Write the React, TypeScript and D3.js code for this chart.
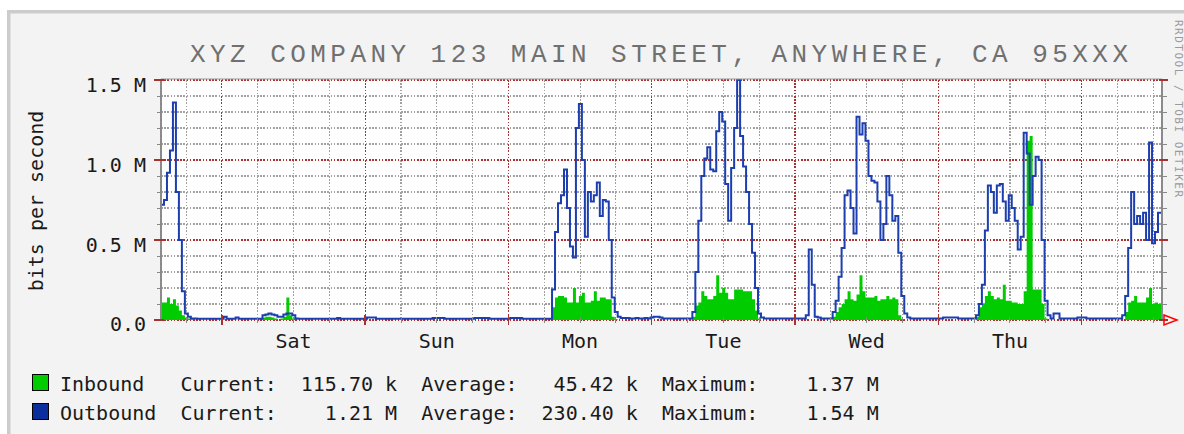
import React from "react";
import * as d3 from "d3";

const WIDTH = 1184;
const HEIGHT = 434;

// samples are every half hour, starting at the left edge of the plot
const HOURS_PER_SAMPLE = 0.5;
const TOTAL_HOURS = 167.5;
const FIRST_MIDNIGHT = 10.2;
const DAY_LABELS = ["Sat", "Sun", "Mon", "Tue", "Wed", "Thu"];
const Y_TICKS = [0, 0.5, 1.0, 1.5];
const Y_TICK_LABELS = ["0.0", "0.5 M", "1.0 M", "1.5 M"];

// values in Mbit/s
const INBOUND = [
  0.11, 0.11, 0.14, 0.10, 0.13, 0.09, 0.06, 0.03, 0.015, 0.01, 0.005, 0,
  0, 0, 0, 0, 0, 0, 0, 0, 0, 0, 0, 0,
  0, 0, 0, 0, 0, 0, 0, 0, 0, 0, 0.015, 0.02,
  0.02, 0.015, 0.01, 0, 0.01, 0.02, 0.14, 0.03, 0.01, 0, 0, 0,
  0, 0, 0, 0, 0, 0, 0, 0, 0, 0, 0, 0,
  0, 0, 0, 0, 0, 0, 0, 0, 0, 0, 0, 0,
  0, 0, 0, 0, 0, 0, 0, 0, 0, 0, 0, 0,
  0, 0, 0, 0, 0, 0, 0, 0, 0, 0, 0, 0,
  0, 0, 0, 0, 0, 0, 0, 0, 0, 0, 0, 0,
  0, 0, 0, 0, 0, 0, 0, 0, 0, 0, 0, 0,
  0, 0, 0, 0, 0, 0, 0, 0, 0, 0, 0, 0.08,
  0.14, 0.15, 0.15, 0.14, 0.11, 0.11, 0.20, 0.11, 0.15, 0.17, 0.11, 0.11,
  0.12, 0.18, 0.12, 0.14, 0.14, 0.13, 0.13, 0.02, 0.005, 0, 0, 0,
  0, 0, 0, 0, 0, 0, 0, 0, 0, 0, 0, 0,
  0, 0, 0, 0, 0, 0, 0, 0, 0, 0, 0.02, 0.09,
  0.11, 0.18, 0.15, 0.13, 0.13, 0.15, 0.28, 0.17, 0.20, 0.17, 0.13, 0.13,
  0.19, 0.19, 0.19, 0.18, 0.18, 0.18, 0.13, 0.06, 0.01, 0, 0, 0,
  0, 0, 0, 0, 0, 0, 0, 0, 0, 0, 0, 0,
  0, 0, 0, 0, 0, 0, 0, 0, 0, 0.02, 0.05, 0.08,
  0.10, 0.13, 0.18, 0.13, 0.12, 0.16, 0.28, 0.18, 0.14, 0.14, 0.14, 0.15,
  0.12, 0.13, 0.13, 0.15, 0.13, 0.14, 0.13, 0.03, 0.005, 0, 0, 0,
  0, 0, 0, 0, 0, 0, 0, 0, 0, 0, 0, 0,
  0, 0, 0, 0, 0, 0, 0, 0, 0, 0.02, 0.08, 0.10,
  0.15, 0.18, 0.15, 0.13, 0.14, 0.13, 0.22, 0.12, 0.12, 0.11, 0.11, 0.10,
  0.10, 0.18, 1.12, 1.15, 0.19, 0.19, 0.19, 0.10, 0.01, 0, 0, 0,
  0, 0, 0, 0, 0, 0, 0, 0, 0, 0, 0, 0,
  0, 0, 0, 0, 0, 0, 0, 0, 0, 0, 0, 0.05,
  0.11, 0.12, 0.15, 0.11, 0.11, 0.11, 0.14, 0.20, 0.10, 0.11, 0.10, 0.10,
];

const OUTBOUND = [
  0.72, 0.75, 0.92, 1.06, 1.36, 0.80, 0.50, 0.18, 0.04, 0.02, 0.01, 0.01,
  0.008, 0.008, 0.008, 0.008, 0.008, 0.008, 0.008, 0.008, 0.008, 0.02, 0.008, 0.008,
  0.008, 0.015, 0.008, 0.008, 0.008, 0.008, 0.008, 0.008, 0.008, 0.008, 0.03, 0.035,
  0.04, 0.035, 0.03, 0.02, 0.02, 0.035, 0.04, 0.04, 0.03, 0.01, 0.008, 0.008,
  0.008, 0.008, 0.008, 0.008, 0.008, 0.008, 0.008, 0.008, 0.008, 0.008, 0.008, 0.012,
  0.008, 0.008, 0.008, 0.008, 0.008, 0.008, 0.008, 0.008, 0.008, 0.015, 0.015, 0.015,
  0.008, 0.008, 0.008, 0.008, 0.008, 0.008, 0.008, 0.008, 0.008, 0.008, 0.008, 0.008,
  0.008, 0.008, 0.008, 0.008, 0.008, 0.008, 0.008, 0.012, 0.012, 0.012, 0.012, 0.008,
  0.008, 0.008, 0.008, 0.008, 0.008, 0.008, 0.008, 0.008, 0.008, 0.012, 0.012, 0.012,
  0.012, 0.012, 0.008, 0.008, 0.008, 0.008, 0.008, 0.008, 0.008, 0.012, 0.012, 0.012,
  0.012, 0.008, 0.008, 0.008, 0.008, 0.008, 0.008, 0.008, 0.008, 0.008, 0.008, 0.19,
  0.55, 0.73, 0.78, 0.94, 0.70, 0.46, 0.39, 1.20, 1.35, 1.00, 0.52, 0.80,
  0.74, 0.78, 0.86, 0.65, 0.75, 0.74, 0.50, 0.14, 0.05, 0.02, 0.012, 0.012,
  0.012, 0.01, 0.01, 0.012, 0.01, 0.01, 0.012, 0.01, 0.015, 0.02, 0.02, 0.015,
  0.01, 0.01, 0.01, 0.01, 0.01, 0.01, 0.01, 0.01, 0.01, 0.01, 0.05, 0.30,
  0.62, 0.90, 1.01, 1.08, 0.94, 0.93, 1.18, 1.30, 1.24, 0.85, 0.62, 0.95,
  1.20, 1.50, 1.15, 0.96, 0.80, 0.60, 0.42, 0.20, 0.04, 0.015, 0.01, 0.01,
  0.01, 0.01, 0.01, 0.01, 0.01, 0.01, 0.01, 0.01, 0.01, 0.01, 0.01, 0.01,
  0.03, 0.44, 0.22, 0.02, 0.015, 0.01, 0.01, 0.01, 0.01, 0.05, 0.12, 0.27,
  0.45, 0.78, 0.81, 0.70, 0.54, 1.27, 1.16, 1.23, 1.12, 0.90, 0.87, 0.86,
  0.74, 0.50, 0.60, 0.90, 0.78, 0.62, 0.65, 0.42, 0.15, 0.04, 0.015, 0.01,
  0.01, 0.01, 0.01, 0.01, 0.01, 0.01, 0.01, 0.01, 0.01, 0.01, 0.015, 0.015,
  0.015, 0.015, 0.015, 0.01, 0.01, 0.01, 0.01, 0.01, 0.01, 0.03, 0.10, 0.22,
  0.56, 0.84, 0.80, 0.67, 0.84, 0.85, 0.74, 0.62, 0.78, 0.70, 0.62, 0.44,
  0.52, 1.17, 1.04, 0.72, 0.90, 1.02, 1.00, 0.50, 0.12, 0.03, 0.01, 0.04,
  0.04, 0.01, 0.01, 0.01, 0.01, 0.01, 0.01, 0.015, 0.015, 0.015, 0.01, 0.01,
  0.01, 0.01, 0.01, 0.01, 0.01, 0.01, 0.01, 0.01, 0.01, 0.01, 0.03, 0.15,
  0.45, 0.80, 0.60, 0.65, 0.60, 0.67, 0.50, 1.11, 0.48, 0.55, 0.67, 0.67,
];

const LEGEND = [
  { name: "Inbound", color: "#00cc00", current: "115.70 k", average: "45.42 k", maximum: "1.37 M" },
  { name: "Outbound", color: "#0a2f9c", current: "1.21 M", average: "230.40 k", maximum: "1.54 M" },
];

const TITLE = "XYZ COMPANY 123 MAIN STREET, ANYWHERE, CA 95XXX";

const MONO = "'DejaVu Sans Mono', monospace";
const MINOR = "#a0a0a0";
const MAJOR = "#a83232";

export default function App() {
  const plot = { left: 161, right: 1161, top: 80, bottom: 320 };

  const x = d3.scaleLinear().domain([0, TOTAL_HOURS]).range([plot.left, plot.right]);
  const y = d3.scaleLinear().domain([0, 1.5]).range([plot.bottom, plot.top]);

  const area = d3
    .area<number>()
    .x((_, i) => x(i * HOURS_PER_SAMPLE))
    .y0(y(0))
    .y1((d) => y(d))
    .curve(d3.curveStepAfter);
  const line = d3
    .line<number>()
    .x((_, i) => x(i * HOURS_PER_SAMPLE))
    .y((d) => y(d))
    .curve(d3.curveStepAfter);

  const minorY = d3.range(1, 15).filter((k) => k % 5 !== 0).map((k) => k / 10);
  const midnights = d3.range(0, 7).map((k) => FIRST_MIDNIGHT + 24 * k);
  const sixHours = d3
    .range(FIRST_MIDNIGHT - 6, TOTAL_HOURS, 6)
    .filter((h) => Math.abs(((h - FIRST_MIDNIGHT) % 24 + 24) % 24) > 0.01);

  const charW = 20 * 0.602;
  const col = (c: number) => 60 + c * charW;

  return (
    <svg
      width={WIDTH}
      height={HEIGHT}
      style={{ position: "absolute", left: 0, top: 0 }}
    >
      <rect x={0} y={0} width={WIDTH} height={HEIGHT} fill="#ffffff" />
      <rect x={7} y={10} width={WIDTH} height={HEIGHT} fill="#cccccc" />
      <rect x={10.5} y={13.5} width={WIDTH} height={HEIGHT} fill="#f3f3f3" />

      <rect
        x={plot.left}
        y={plot.top}
        width={plot.right - plot.left}
        height={plot.bottom - plot.top}
        fill="#ffffff"
      />

      {/* grid */}
      <g strokeDasharray="1.6 1.6" strokeWidth={1.1} shapeRendering="crispEdges">
        {minorY.map((v) => (
          <line key={`hy${v}`} x1={plot.left} x2={plot.right} y1={y(v)} y2={y(v)} stroke={MINOR} />
        ))}
        {sixHours.map((h) => (
          <line key={`vx${h}`} x1={x(h)} x2={x(h)} y1={plot.top} y2={plot.bottom} stroke={MINOR} />
        ))}
        {Y_TICKS.map((v) => (
          <line key={`my${v}`} x1={plot.left} x2={plot.right} y1={y(v)} y2={y(v)} stroke={MAJOR} />
        ))}
        {midnights.map((h) => (
          <line key={`mx${h}`} x1={x(h)} x2={x(h)} y1={plot.top} y2={plot.bottom} stroke={MAJOR} />
        ))}
      </g>

      {/* data */}
      <path d={area(INBOUND) ?? ""} fill="#00cc00" />
      <path d={line(OUTBOUND) ?? ""} fill="none" stroke="#1c3eae" strokeWidth={2} />

      {/* axes */}
      <line x1={plot.left} x2={plot.right + 1} y1={plot.top - 1} y2={plot.top - 1} stroke="#999" strokeWidth={1} />
      <line x1={plot.left} x2={plot.left} y1={plot.top - 1} y2={plot.bottom + 1} stroke="#8a8a8a" strokeWidth={2} />
      <line x1={plot.right + 1} x2={plot.right + 1} y1={plot.top - 1} y2={plot.bottom + 1} stroke="#8a8a8a" strokeWidth={2} />
      <g shapeRendering="crispEdges">
        {minorY.map((v) => (
          <g key={`ty${v}`}>
            <line x1={plot.left - 4} x2={plot.left} y1={y(v)} y2={y(v)} stroke="#888" />
            <line x1={plot.right} x2={plot.right + 6} y1={y(v)} y2={y(v)} stroke="#888" />
          </g>
        ))}
        {Y_TICKS.map((v) => (
          <g key={`tmy${v}`}>
            <line x1={plot.left - 7} x2={plot.left + 3} y1={y(v)} y2={y(v)} stroke={MAJOR} strokeWidth={1.5} />
            <line x1={plot.right - 2} x2={plot.right + 7} y1={y(v)} y2={y(v)} stroke={MAJOR} strokeWidth={1.5} />
          </g>
        ))}
        {sixHours.map((h) => (
          <line key={`tx${h}`} x1={x(h)} x2={x(h)} y1={plot.bottom - 3} y2={plot.bottom + 3} stroke="#888" />
        ))}
        {midnights.map((h) => (
          <line key={`tmx${h}`} x1={x(h)} x2={x(h)} y1={plot.bottom - 5} y2={plot.bottom + 5} stroke={MAJOR} strokeWidth={1.5} />
        ))}
      </g>
      <path
        d={`M${plot.right + 3},${plot.bottom - 5} L${plot.right + 16},${plot.bottom} L${plot.right + 3},${plot.bottom + 5} Z`}
        fill="none"
        stroke="#ff0000"
        strokeWidth={1.5}
      />

      {/* labels */}
      <g fontFamily={MONO} fontSize={20} fill="#1a1a1a">
        {Y_TICKS.map((v, i) => (
          <text key={`ly${v}`} x={146} y={y(v) + (v === 0 ? 11 : 12)} textAnchor="end">
            {Y_TICK_LABELS[i]}
          </text>
        ))}
        {DAY_LABELS.map((d, i) => (
          <text key={d} x={x(FIRST_MIDNIGHT + 12 + 24 * i)} y={348} textAnchor="middle">
            {d}
          </text>
        ))}
        <text transform="translate(43,201) rotate(-90)" textAnchor="middle">
          bits per second
        </text>

        {LEGEND.map((row, i) => {
          const base = 391 + i * 29;
          return (
            <g key={row.name}>
              <rect x={32.5} y={base - 16.5} width={16} height={16} fill={row.color} stroke="#000" strokeWidth={1} />
              <text x={col(0)} y={base}>{row.name}</text>
              <text x={col(10)} y={base}>Current:</text>
              <text x={col(28)} y={base} textAnchor="end">{row.current}</text>
              <text x={col(30)} y={base}>Average:</text>
              <text x={col(48)} y={base} textAnchor="end">{row.average}</text>
              <text x={col(50)} y={base}>Maximum:</text>
              <text x={col(68)} y={base} textAnchor="end">{row.maximum}</text>
            </g>
          );
        })}
      </g>

      <text
        x={190}
        y={62}
        fontFamily="'Liberation Mono', monospace"
        fontSize={26}
        fill="#707070"
        textLength={938}
        lengthAdjust="spacing"
      >
        {TITLE}
      </text>

      <text
        transform="translate(1175,20) rotate(90)"
        fontFamily={MONO}
        fontSize={11}
        fill="#9a9a9a"
        textLength={177}
        lengthAdjust="spacing"
      >
        RRDTOOL / TOBI OETIKER
      </text>
    </svg>
  );
}
